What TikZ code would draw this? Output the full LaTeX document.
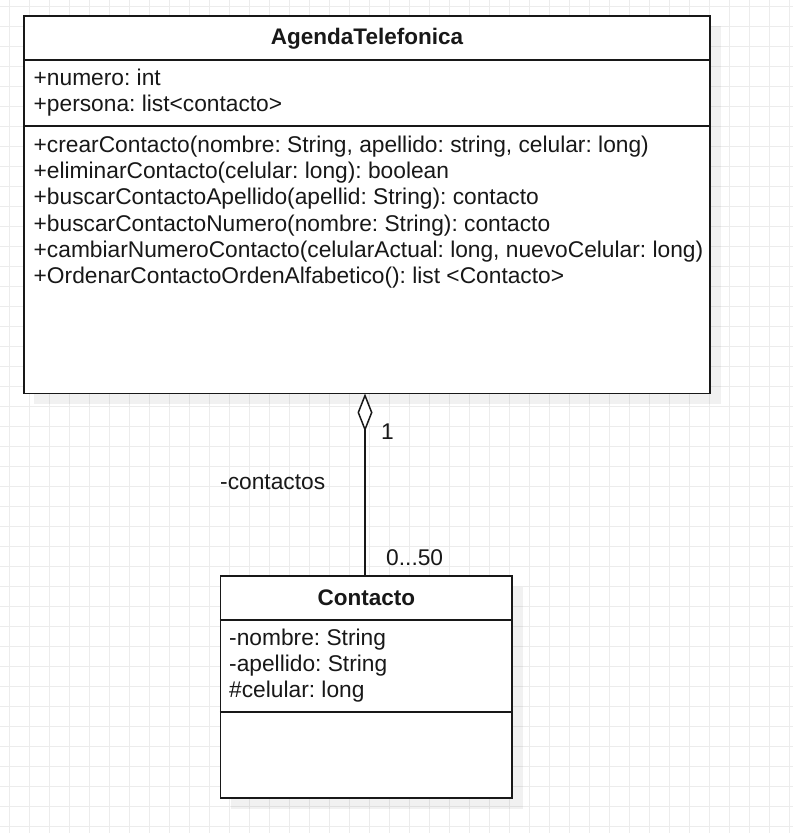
\documentclass[tikz,border=0pt]{standalone}
\usepackage{fontspec}
\setmainfont{Liberation Sans}
\usetikzlibrary{arrows.meta}
\definecolor{gridc}{RGB}{236,236,236}
\definecolor{ink}{RGB}{24,24,24}
\frenchspacing
\begin{document}
\begin{tikzpicture}[x=1pt,y=-1pt,
  umlbox/.style={draw=ink,line width=1.5pt,fill=white,rectangle,inner sep=0pt},
  shadowbox/.style={fill=black,fill opacity=0.055,draw=none},
  txt/.style={anchor=base west,inner sep=0pt,text=ink,font=\fontsize{22.75}{26}\selectfont\frenchspacing},
  ttl/.style={anchor=base,inner sep=0pt,text=ink,font=\fontsize{22.5}{26}\selectfont\bfseries},
  sep/.style={draw=ink,line width=1.5pt},
  link/.style={draw=ink,line width=1.5pt}
]
\useasboundingbox (0,0) rectangle (793,833);
\fill[white] (0,0) rectangle (793,833);
% grid
\foreach \gx in {9,29,...,789} \draw[gridc,line width=1pt] (\gx,0) -- (\gx,833);
\foreach \gy in {6,26,...,826} \draw[gridc,line width=1pt] (0,\gy) -- (793,\gy);
% shadows
\fill[shadowbox] (34,26) rectangle (721,404);
\fill[shadowbox] (231,587) rectangle (523,809);
% boxes
\node[umlbox,minimum width=686pt,minimum height=377.5pt] (agenda) at (367,204.75) {};
\node[umlbox,minimum width=291.5pt,minimum height=222pt] (contacto) at (366.25,687) {};
\draw[sep] (agenda.west |- 0,60) -- (agenda.east |- 0,60);
\draw[sep] (agenda.west |- 0,126) -- (agenda.east |- 0,126);
\draw[sep] (contacto.west |- 0,620) -- (contacto.east |- 0,620);
\draw[sep] (contacto.west |- 0,712) -- (contacto.east |- 0,712);
% titles
\node[ttl] (t1) at (367,44.3) {AgendaTelefonica};
\node[ttl] (t2) at (366.3,605) {Contacto};
% attributes
\node[txt] (a1) at (33.5,85) {+numero: int};
\node[txt] (a2) at (33.5,111) {+persona: list<contacto>};
\node[txt] (m1) at (33.5,152.7) {+crearContacto(nombre: String, apellido: string, celular: long)};
\node[txt] (m2) at (33.5,178.6) {+eliminarContacto(celular: long): boolean};
\node[txt] (m3) at (33.5,204.8) {+buscarContactoApellido(apellid: String): contacto};
\node[txt] (m4) at (33.5,231) {+buscarContactoNumero(nombre: String): contacto};
\node[txt] (m5) at (33.5,257) {+cambiarNumeroContacto(celularActual: long, nuevoCelular: long)};
\node[txt] (m6) at (33.5,283.3) {+OrdenarContactoOrdenAlfabetico(): list <Contacto>};
\node[txt] (c1) at (229,645) {-nombre: String};
\node[txt] (c2) at (229,671.5) {-apellido: String};
\node[txt] (c3) at (229,697.7) {\#celular: long};
% connector
\coordinate (top) at (365,393.5);
\coordinate (bot) at (365,576);
\draw[link,-{Diamond[fill=white,length=38pt,width=15pt]}] (bot) -- (top);
\node[txt] (l1) at (381,439) {1};
\node[txt] (l2) at (386,565) {0...50};
\node[txt] (l3) at (220,489.3) {-contactos};
\end{tikzpicture}
\end{document}
